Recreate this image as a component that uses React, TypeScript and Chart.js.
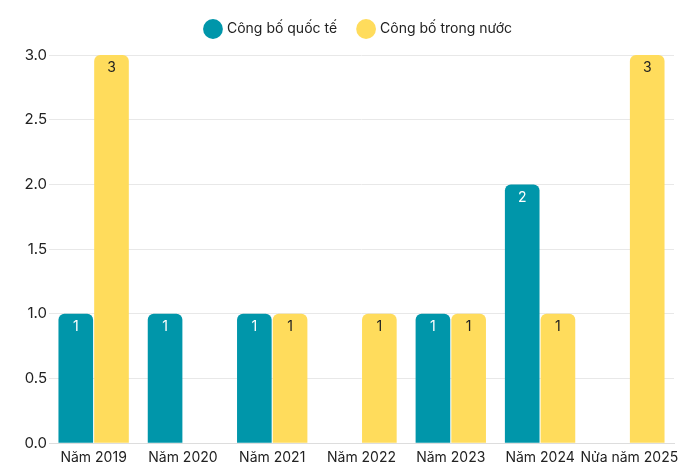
import React, { useEffect, useRef } from "react";
import { Chart, registerables } from "chart.js";

Chart.register(...registerables);

const categories = ["Năm 2019", "Năm 2020", "Năm 2021", "Năm 2022", "Năm 2023", "Năm 2024", "Nửa năm 2025"];
const international = [1, 1, 1, null, 1, 2, null];
const domestic = [3, null, 1, 1, 1, 1, 3];
const seriesNames = ["Công bố quốc tế", "Công bố trong nước"];

const TEAL = "#0096AA";
const YELLOW = "#FFDC5C";
const FONT = "Inter, 'Noto Sans', sans-serif";

const labelPlugin = {
  id: "barLabels",
  afterDatasetsDraw(chart: any) {
    const ctx = chart.ctx;
    chart.data.datasets.forEach((ds: any, i: number) => {
      const meta = chart.getDatasetMeta(i);
      meta.data.forEach((bar: any, j: number) => {
        const v = ds.data[j];
        if (v == null) return;
        ctx.save();
        ctx.font = `14px ${FONT}`;
        ctx.fillStyle = i === 0 ? "#ffffff" : "#222222";
        ctx.textAlign = "center";
        ctx.textBaseline = "top";
        ctx.fillText(String(v), bar.x, bar.y + 6);
        ctx.restore();
      });
    });
  },
};

const legendSpacing = {
  id: "legendSpacing",
  beforeInit(chart: any) {
    const origFit = chart.legend.fit;
    chart.legend.fit = function () {
      origFit.bind(chart.legend)();
      this.height += 9;
    };
  },
  afterLayout(chart: any) {
    chart.legend.left += 20;
    chart.legend.right += 20;
  },
};

export default function App() {
  const ref = useRef<HTMLCanvasElement>(null);
  useEffect(() => {
    document.body.style.margin = "0";
    const chart = new Chart(ref.current!, {
      type: "bar",
      data: {
        labels: categories,
        datasets: [
          {
            label: seriesNames[0],
            data: international,
            backgroundColor: TEAL,
            borderRadius: 6,
            categoryPercentage: 0.8,
            barPercentage: 0.97,
          },
          {
            label: seriesNames[1],
            data: domestic,
            backgroundColor: YELLOW,
            borderRadius: 6,
            categoryPercentage: 0.8,
            barPercentage: 0.97,
          },
        ],
      },
      options: {
        animation: false,
        responsive: false,
        layout: { padding: { left: 4, right: 26, top: 0, bottom: 2 } },
        plugins: {
          legend: {
            position: "top",
            labels: {
              usePointStyle: true,
              pointStyle: "circle",
              boxWidth: 14,
              boxHeight: 14,
              padding: 22,
              color: "#222",
              font: { family: FONT, size: 14 },
            },
          },
          tooltip: { enabled: false },
        },
        scales: {
          x: {
            grid: { display: false, drawTicks: false },
            border: { color: "#dddddd" },
            ticks: { color: "#222", font: { family: FONT, size: 14 }, padding: 6, maxRotation: 0, minRotation: 0, autoSkip: false },
          },
          y: {
            min: 0,
            max: 3,
            afterFit: (s: any) => { s.width = 45; },
            ticks: { stepSize: 0.5, color: "#222", font: { family: FONT, size: 15 }, padding: 2, callback: (v: any) => Number(v).toFixed(1) },
            grid: { color: "#e8e8e8", drawTicks: false },
            border: { display: false },
          },
        },
      },
      plugins: [labelPlugin, legendSpacing],
    });
    return () => chart.destroy();
  }, []);
  return <canvas ref={ref} width={700} height={474} style={{ display: "block" }} />;
}
